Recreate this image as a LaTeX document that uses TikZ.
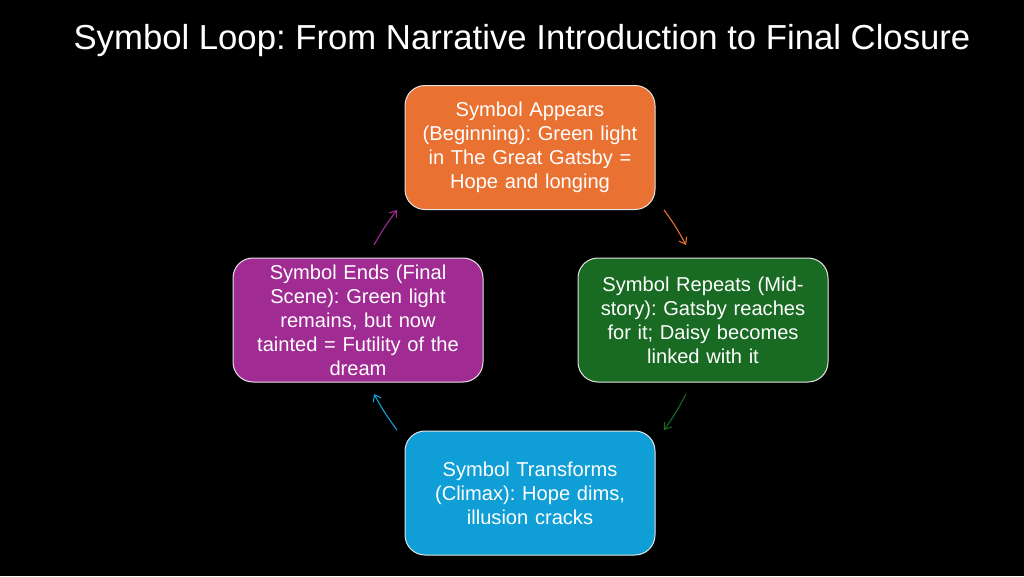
\documentclass[tikz,border=0pt]{standalone}
\usepackage{fontspec}
\setmainfont{Liberation Sans}
\definecolor{cOrange}{HTML}{E97132}
\definecolor{cGreen}{HTML}{196B24}
\definecolor{cBlue}{HTML}{0F9ED5}
\definecolor{cPurple}{HTML}{A02B93}
\usetikzlibrary{arrows.meta}
\tikzset{
  stage/.style={draw=white!90!black,line width=1pt,rounded corners=20pt,minimum width=250pt,minimum height=124pt,
    inner sep=0pt,align=center,text width=240pt,text=white,font=\fontsize{20.1}{24}\selectfont},
  link/.style={line width=1.1pt,-{Straight Barb[length=6pt,width=9pt]}},
}
\begin{document}
\frenchspacing
\begin{tikzpicture}[x=1pt,y=-1pt]
\useasboundingbox[fill=black] (0,0) rectangle (1024,576);
\node[text=white,font=\fontsize{34.7}{38}\selectfont,anchor=center] (title) at (522,41) {Symbol Loop: From Narrative Introduction to Final Closure};
\node[stage,fill=cOrange] (a) at (530,147.5) {Symbol Appears\\(Beginning): Green light\\in The Great Gatsby =\\Hope and longing};
\node[stage,fill=cGreen] (b) at (703,320) {Symbol Repeats (Mid-\\story): Gatsby reaches\\for it; Daisy becomes\\linked with it};
\node[stage,fill=cBlue] (c) at (530,493) {Symbol Transforms\\(Climax): Hope dims,\\illusion cracks};
\node[stage,fill=cPurple] (d) at (358,320) {Symbol Ends (Final\\Scene): Green light\\remains, but now\\tainted = Futility of the\\dream};
\coordinate (a1) at (664,210); \coordinate (a2) at (686,245);
\coordinate (b1) at (686,394); \coordinate (b2) at (664,430);
\coordinate (c1) at (397,430); \coordinate (c2) at (374,394);
\coordinate (d1) at (374,245); \coordinate (d2) at (397,210);
\draw[link,cOrange] (a1) to[bend left=4] (a2);
\draw[link,cGreen] (b1) to[bend left=4] (b2);
\draw[link,cBlue] (c1) to[bend left=4] (c2);
\draw[link,cPurple] (d1) to[bend left=4] (d2);
\end{tikzpicture}
\end{document}
